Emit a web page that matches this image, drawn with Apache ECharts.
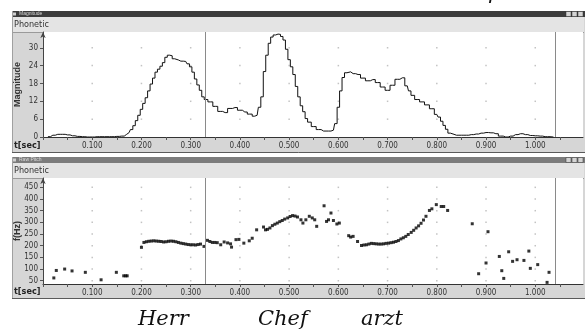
<!DOCTYPE html>
<html>
<head>
<meta charset="utf-8">
<script src="https://cdn.jsdelivr.net/npm/echarts@6/dist/echarts.min.js"></script>
<style>
  html, body { margin: 0; padding: 0; background: #fff; }
  #chart { width: 585px; height: 330px; }
</style>
</head>
<body>
<div id="chart"></div>
<script>
// magnitude envelope (top panel), time in seconds
const magTime = [0.01, 0.02, 0.03, 0.04, 0.05, 0.06, 0.07, 0.08, 0.09, 0.10,
  0.11, 0.12, 0.13, 0.14, 0.15, 0.16, 0.17, 0.175, 0.18, 0.185,
  0.19, 0.195, 0.20, 0.205, 0.21, 0.215, 0.22, 0.225, 0.23, 0.235,
  0.24, 0.245, 0.25, 0.255, 0.26, 0.265, 0.27, 0.28, 0.29, 0.295,
  0.30, 0.305, 0.31, 0.315, 0.32, 0.325, 0.33, 0.34, 0.35, 0.36,
  0.37, 0.38, 0.39, 0.40, 0.41, 0.42, 0.43, 0.435, 0.44, 0.445,
  0.45, 0.455, 0.46, 0.465, 0.47, 0.475, 0.48, 0.485, 0.49, 0.495,
  0.50, 0.505, 0.51, 0.515, 0.52, 0.525, 0.53, 0.535, 0.54, 0.55,
  0.56, 0.57, 0.58, 0.59, 0.595, 0.60, 0.605, 0.61, 0.615, 0.62,
  0.63, 0.64, 0.65, 0.66, 0.67, 0.68, 0.69, 0.70, 0.71, 0.72,
  0.73, 0.74, 0.745, 0.75, 0.76, 0.77, 0.78, 0.79, 0.80, 0.805,
  0.81, 0.815, 0.82, 0.825, 0.83, 0.84, 0.85, 0.86, 0.87, 0.88,
  0.89, 0.90, 0.91, 0.92, 0.93, 0.94, 0.95, 0.96, 0.97, 0.98,
  0.99, 1.00, 1.01, 1.02, 1.03, 1.037];
const magValue = [0.1, 0.6, 0.9, 0.9, 0.7, 0.4, 0.2, 0.1, 0.0, 0.0,
  0.1, 0.1, 0.1, 0.1, 0.2, 0.3, 0.9, 1.5, 2.5, 3.8,
  5.5, 7.3, 9.3, 11.3, 13.2, 15.5, 17.8, 19.8, 21.8, 22.8,
  23.8, 25.0, 26.8, 27.5, 27.3, 26.3, 25.9, 25.5, 25.4, 24.6,
  23.6, 21.8, 19.5, 17.5, 15.7, 13.5, 12.6, 11.8, 10.3, 8.6,
  8.2, 9.6, 9.9, 9.0, 8.4, 7.7, 7.0, 7.3, 10.0, 13.5,
  22.0, 27.5, 31.5, 33.6, 34.3, 34.6, 34.5, 33.8, 32.6, 29.5,
  26.0, 23.6, 21.0, 17.0, 13.5, 10.5, 8.5, 6.2, 5.0, 3.5,
  2.5, 2.0, 2.0, 2.3, 4.5, 10.0, 15.5, 20.0, 21.6, 21.9,
  21.3, 21.0, 19.8, 18.9, 19.3, 18.3, 16.8, 15.7, 17.4, 19.4,
  19.9, 17.2, 15.5, 14.0, 12.6, 11.8, 10.8, 9.5, 7.6, 6.7,
  5.3, 3.9, 2.6, 1.3, 0.9, 0.6, 0.6, 0.6, 0.8, 1.0,
  1.3, 1.5, 1.4, 1.1, 0.3, 0.0, 0.3, 0.8, 1.1, 0.8,
  0.5, 0.4, 0.3, 0.1, 0.1, 0.0];

// raw pitch points (bottom panel)
const pitchTime = [0.022, 0.027, 0.044, 0.059, 0.086, 0.118, 0.149, 0.164, 0.168, 0.171,
  0.200, 0.205, 0.210, 0.215, 0.220, 0.225, 0.230, 0.235, 0.240, 0.245,
  0.250, 0.255, 0.260, 0.265, 0.270, 0.275, 0.280, 0.285, 0.290, 0.295,
  0.300, 0.305, 0.310, 0.315, 0.320, 0.327, 0.334, 0.339, 0.344, 0.349,
  0.354, 0.361, 0.368, 0.375, 0.381, 0.383, 0.392, 0.398, 0.408, 0.419,
  0.425, 0.434, 0.448, 0.452, 0.456, 0.461, 0.466, 0.471, 0.476, 0.481,
  0.486, 0.491, 0.497, 0.502, 0.507, 0.512, 0.517, 0.524, 0.528, 0.534,
  0.541, 0.547, 0.552, 0.556, 0.571, 0.576, 0.580, 0.585, 0.590, 0.597,
  0.602, 0.621, 0.625, 0.630, 0.639, 0.647, 0.652, 0.657, 0.662, 0.667,
  0.672, 0.677, 0.682, 0.687, 0.692, 0.697, 0.702, 0.707, 0.712, 0.717,
  0.722, 0.727, 0.732, 0.737, 0.742, 0.748, 0.753, 0.758, 0.763, 0.768,
  0.773, 0.778, 0.785, 0.790, 0.799, 0.809, 0.814, 0.822, 0.872, 0.885,
  0.900, 0.904, 0.927, 0.932, 0.936, 0.946, 0.954, 0.963, 0.977, 0.987,
  0.990, 1.005, 1.024, 1.028];
const pitchHz = [62, 94, 100, 92, 86, 54, 86, 71, 71, 71,
  193, 214, 217, 219, 220, 221, 220, 219, 218, 216,
  217, 219, 220, 219, 217, 214, 211, 209, 207, 205,
  204, 204, 203, 205, 207, 197, 223, 218, 214, 214,
  213, 204, 216, 212, 208, 194, 226, 227, 211, 221,
  232, 268, 280, 268, 270, 276, 286, 292, 297, 303,
  308, 314, 319, 325, 329, 327, 323, 311, 297, 311,
  326, 319, 311, 283, 371, 304, 311, 340, 308, 293,
  297, 243, 237, 240, 218, 201, 203, 204, 207, 210,
  209, 208, 207, 207, 208, 210, 211, 213, 215, 218,
  222, 229, 234, 240, 248, 257, 266, 276, 285, 296,
  310, 326, 351, 358, 376, 368, 368, 351, 294, 80,
  126, 260, 154, 93, 60, 174, 133, 140, 137, 177,
  103, 119, 43, 86];

const timeTicks = [0.1, 0.2, 0.3, 0.4, 0.5, 0.6, 0.7, 0.8, 0.9, 1.0];
const magTicks = [0, 6, 12, 18, 24, 30];
const pitchTicks = [50, 100, 150, 200, 250, 300, 350, 400, 450];
const cursorTimes = [0.325, 1.036];

const chart = echarts.init(document.getElementById('chart'));

const narrow = '"Liberation Sans Narrow", "DejaVu Sans Condensed", "Liberation Sans", sans-serif';
const gridDots = (ys) => {
  const out = [];
  timeTicks.forEach(t => ys.forEach(v => out.push([t, v])));
  return out;
};

const xAxisBase = (gridIndex) => ({
  type: 'value',
  gridIndex,
  min: 0,
  max: 1.097,
  interval: 0.05,
  axisLine: { lineStyle: { color: '#333', width: 1 } },
  axisTick: { length: 3, lineStyle: { color: '#555' } },
  splitLine: { show: false },
  axisLabel: {
    interval: 0,
    margin: 5,
    fontSize: 8,
    fontFamily: narrow,
    color: '#333',
    showMaxLabel: false,
    formatter: (v) => {
      const k = Math.round(v * 100);
      if (k === 0 || k % 10 !== 0) return '';
      return v.toFixed(3);
    }
  }
});

const yAxisBase = (gridIndex, name) => ({
  type: 'value',
  gridIndex,
  name,
  nameLocation: 'middle',
  nameGap: 21,
  nameMoveOverlap: false,
  nameRotate: 90,
  nameTextStyle: { fontSize: 9, fontWeight: 'bold', color: '#333', fontFamily: '"Liberation Sans", sans-serif' },
  axisLine: { show: true, symbol: ['none', 'arrow'], symbolSize: [4, 6], lineStyle: { color: '#444' } },
  axisTick: { show: true, length: 3, lineStyle: { color: '#555' } },
  splitLine: { show: false },
  axisLabel: { margin: 5, fontSize: 8, fontFamily: narrow, color: '#333', showMaxLabel: false }
});

const cursorMarks = {
  silent: true,
  symbol: 'none',
  label: { show: false },
  lineStyle: { color: '#8a8a8a', type: 'solid', width: 1 },
  data: cursorTimes.map(t => ({ xAxis: t }))
};

const panel = (top, barColor, title) => [
  { type: 'rect', z: -5, shape: { x: 12, y: top, width: 573, height: 142 }, style: { fill: '#d6d6d6' } },
  { type: 'rect', z: -4, shape: { x: 12, y: top, width: 573, height: 6 }, style: { fill: barColor } },
  { type: 'rect', z: -3, shape: { x: 13, y: top + 1.5, width: 3, height: 3 }, style: { fill: '#cfcfcf' } },
  { type: 'text', z: -3, style: { x: 19, y: top + 3, text: title, fontSize: 5, fill: '#d8d8d8', verticalAlign: 'middle' } },
  { type: 'rect', z: -3, shape: { x: 566, y: top + 0.5, width: 5, height: 5 }, style: { fill: '#d4d4d4', stroke: '#333', lineWidth: 0.5 } },
  { type: 'rect', z: -3, shape: { x: 572, y: top + 0.5, width: 5, height: 5 }, style: { fill: '#d4d4d4', stroke: '#333', lineWidth: 0.5 } },
  { type: 'rect', z: -3, shape: { x: 578, y: top + 0.5, width: 5, height: 5 }, style: { fill: '#d4d4d4', stroke: '#333', lineWidth: 0.5 } },
  { type: 'rect', z: -4, shape: { x: 13, y: top + 6, width: 571, height: 15 }, style: { fill: '#e4e4e4' } },
  { type: 'line', z: -3, shape: { x1: 13, y1: top + 21.5, x2: 584, y2: top + 21.5 }, style: { stroke: '#9a9a9a' } },
  { type: 'line', z: -3, shape: { x1: 12.5, y1: top, x2: 12.5, y2: top + 142 }, style: { stroke: '#a0a0a0' } },
  { type: 'line', z: -3, shape: { x1: 12, y1: top + 141.5, x2: 585, y2: top + 141.5 }, style: { stroke: '#5a5a5a' } },
  { type: 'text', z: 5, style: { x: 14, y: top + 13.5, text: 'Phonetic', fontSize: 9, fill: '#333', fontFamily: narrow, verticalAlign: 'middle' } },
  { type: 'text', z: 5, style: { x: 14, y: top + 135, text: 't[sec]', fontSize: 9, fontWeight: 'bold', fill: '#222', fontFamily: narrow, verticalAlign: 'middle' } }
];

const serif = { fontSize: 21, fontStyle: 'italic', fontFamily: '"DejaVu Serif", serif', fill: '#111', verticalAlign: 'middle' };

chart.setOption({
  backgroundColor: '#fff',
  animation: false,
  grid: [
    { left: 43, top: 32, width: 540, height: 105, show: true, backgroundColor: '#fff', borderWidth: 0, outerBoundsMode: 'none' },
    { left: 43, top: 178, width: 540, height: 106, show: true, backgroundColor: '#fff', borderWidth: 0, outerBoundsMode: 'none' }
  ],
  xAxis: [xAxisBase(0), xAxisBase(1)],
  yAxis: [
    Object.assign(yAxisBase(0, 'Magnitude'), { min: 0, max: 35.3, interval: 6 }),
    Object.assign(yAxisBase(1, 'f(Hz)'), {
      min: 36, max: 490,
      axisLabel: { margin: 5, fontSize: 8, fontFamily: narrow, color: '#333', customValues: pitchTicks },
      axisTick: { show: true, length: 3, lineStyle: { color: '#555' }, customValues: pitchTicks }
    })
  ],
  graphic: panel(11, '#3c3c3c', 'Magnitude').concat(panel(157, '#7c7c7c', 'Raw Pitch'), [
    { type: 'text', style: Object.assign({ x: 138, y: 320, text: 'Herr' }, serif) },
    { type: 'text', style: Object.assign({ x: 258, y: 320, text: 'Chef' }, serif) },
    { type: 'text', style: Object.assign({ x: 361, y: 320, text: 'arzt' }, serif) },
    { type: 'text', style: Object.assign({ x: 488, y: -6, text: 'p' }, serif) }
  ]),
  series: [
    {
      type: 'scatter', xAxisIndex: 0, yAxisIndex: 0, silent: true, z: 1,
      symbol: 'rect', symbolSize: 1.5, itemStyle: { color: '#b4b4b4' },
      data: gridDots(magTicks.slice(1))
    },
    {
      type: 'scatter', xAxisIndex: 1, yAxisIndex: 1, silent: true, z: 1,
      symbol: 'rect', symbolSize: 1.5, itemStyle: { color: '#b4b4b4' },
      data: gridDots(pitchTicks)
    },
    {
      name: 'Magnitude', type: 'line', xAxisIndex: 0, yAxisIndex: 0,
      step: 'middle', showSymbol: false,
      lineStyle: { color: '#111', width: 1 },
      data: magTime.map((t, i) => [t, magValue[i]]),
      markLine: cursorMarks
    },
    {
      name: 'Raw Pitch', type: 'scatter', xAxisIndex: 1, yAxisIndex: 1,
      symbol: 'rect', symbolSize: [3, 3], itemStyle: { color: '#000' },
      data: pitchTime.map((t, i) => [t, pitchHz[i]]),
      markLine: cursorMarks
    }
  ]
});
</script>
</body>
</html>
